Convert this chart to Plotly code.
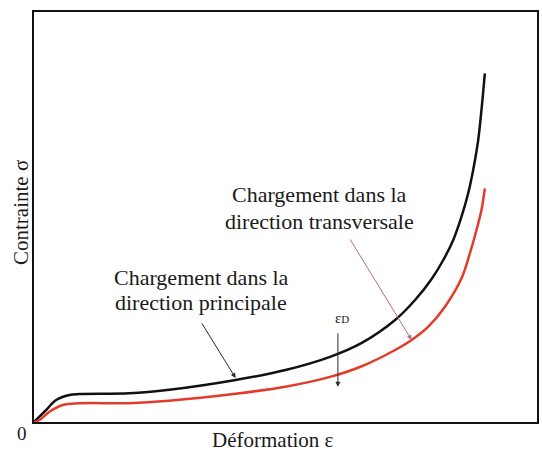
import plotly.graph_objects as go

# Strain (x) and stress (y) values (arbitrary units 0-100)
strain_principal = [0, 2.42, 4.40, 7.04, 9.02, 18.93, 26.86, 40.08, 49.99, 58.86, 65.17,
                    71.79, 75.76, 79.05, 81.37, 83.35, 84.99, 86.32, 87.31, 88.31, 88.96, 89.63]
stress_principal = [0, 2.93, 5.37, 6.59, 6.83, 7.0, 7.85, 10.24, 12.68, 15.9, 19.3,
                    24.88, 29.76, 34.88, 39.51, 44.39, 50.07, 55.78, 61.46, 68.78, 76.1, 85.05]
strain_transverse = [0, 1.09, 3.07, 5.71, 9.02, 18.93, 26.86, 40.08, 49.99, 58.86,
                     65.17, 71.79, 75.08, 78.39, 81.7, 84.99, 86.66, 87.97, 88.96, 89.63]
stress_transverse = [0, 0.49, 2.51, 4.15, 4.56, 4.6, 5.2, 6.9, 8.61, 11.0,
                     13.6, 17.56, 20.0, 23.24, 28.12, 35.05, 41.15, 46.83, 51.71, 57.0]

FONT = "Liberation Serif, Times New Roman, serif"
TXT = "#1a1a1a"

fig = go.Figure()
fig.add_trace(go.Scatter(x=strain_principal, y=stress_principal, mode="lines",
                         line=dict(color="#111111", width=2.5, shape="spline", smoothing=1.0),
                         showlegend=False, hoverinfo="skip"))
fig.add_trace(go.Scatter(x=strain_transverse, y=stress_transverse, mode="lines",
                         line=dict(color="#e23b2a", width=2.5, shape="spline", smoothing=1.0),
                         showlegend=False, hoverinfo="skip"))

ann = []
# Label texts (data coordinates)
def txt(x, y, s, size=22):
    ann.append(dict(x=x, y=y, xref="x", yref="y", text=s, showarrow=False,
                    font=dict(family=FONT, size=size, color=TXT),
                    xanchor="center", yanchor="middle"))

txt(56.7, 55.4, "Chargement dans la")
txt(56.7, 49.0, "direction transversale")
txt(33.2, 35.3, "Chargement dans la")
txt(33.2, 29.2, "direction principale")
txt(61.2, 25.4, "ε<span style='font-size:11px'>D</span>", size=15)

# Arrows
ann.append(dict(x=40.08, y=10.73, ax=33.2, ay=24.4, xref="x", yref="y", axref="x", ayref="y",
                text="", showarrow=True, arrowhead=2, arrowsize=1, arrowwidth=1,
                arrowcolor="#2a2a2a"))
ann.append(dict(x=75.08, y=20.0, ax=62.68, ay=44.88, xref="x", yref="y", axref="x", ayref="y",
                text="", showarrow=True, arrowhead=2, arrowsize=1, arrowwidth=1,
                arrowcolor="#b0707c"))
ann.append(dict(x=60.42, y=8.6, ax=60.42, ay=22.0, xref="x", yref="y", axref="x", ayref="y",
                text="", showarrow=True, arrowhead=2, arrowsize=1, arrowwidth=1,
                arrowcolor="#2a2a2a"))

# Axis titles and origin
ann.append(dict(x=0.475, y=0, xref="paper", yref="paper", text="Déformation ε",
                showarrow=False, yshift=-18, xanchor="center", yanchor="middle",
                font=dict(family=FONT, size=21, color=TXT)))
ann.append(dict(x=-0.026, y=0.512, xref="paper", yref="paper", text="Contrainte σ",
                showarrow=False, textangle=-90, xanchor="center", yanchor="middle",
                font=dict(family=FONT, size=21, color=TXT)))
ann.append(dict(x=-0.024, y=0, xref="paper", yref="paper", text="0",
                showarrow=False, yshift=-11, xanchor="center", yanchor="middle",
                font=dict(family=FONT, size=19, color=TXT)))

axis_common = dict(range=[0, 100], showgrid=False, zeroline=False, showticklabels=False,
                   ticks="", showline=True, mirror=True, linecolor="#111111", linewidth=2,
                   fixedrange=True)

fig.update_layout(
    width=542, height=453,
    margin=dict(l=34, r=3, t=12, b=31),
    paper_bgcolor="white", plot_bgcolor="white",
    xaxis=axis_common, yaxis=axis_common,
    annotations=ann,
    showlegend=False,
)

fig.write_html("out.html", config={"displayModeBar": False},
               post_script="document.body.style.margin='0';document.body.style.overflow='hidden';")
